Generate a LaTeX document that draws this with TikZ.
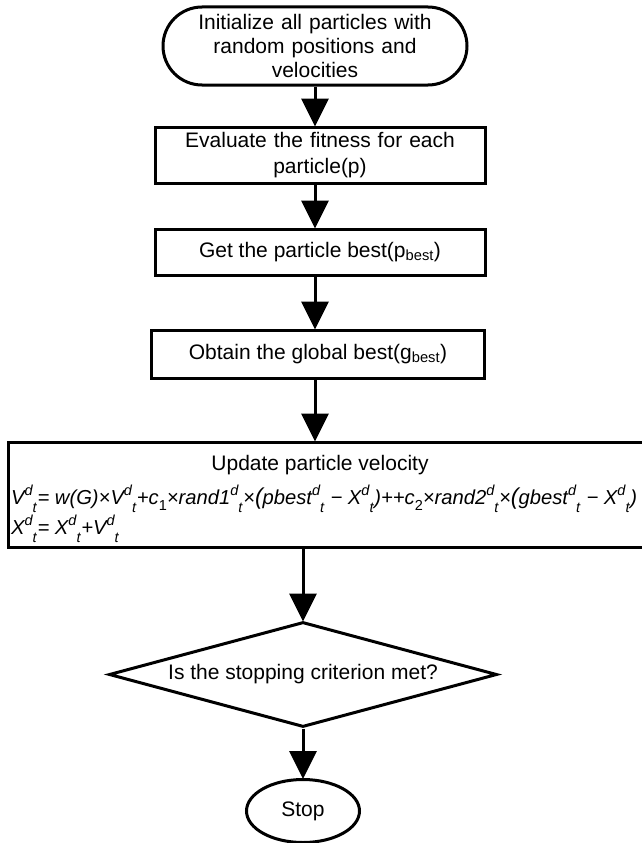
\documentclass[tikz,border=0pt]{standalone}
\usepackage{fontspec}
\setmainfont{Liberation Sans}
\usetikzlibrary{shapes.geometric,shapes.misc,arrows.meta}
\newcommand{\dsup}{\raisebox{0.85ex}{\fontsize{14.5}{15}\selectfont d}\raisebox{-0.75ex}{\fontsize{14.5}{15}\selectfont t}\kern0.8pt}
\newcommand{\lsub}[1]{\raisebox{-0.5ex}{\fontsize{14.5}{15}\selectfont\upshape #1}}
\newcommand{\bpar}[1]{{\fontsize{23}{23}\selectfont #1}}
\begin{document}
\begin{tikzpicture}[x=1pt,y=-1pt,
  every node/.style={font=\fontsize{21}{24}\selectfont},
  box/.style={draw,line width=3pt,rectangle,inner sep=0pt,align=center},
  term/.style={draw,line width=3pt,rounded rectangle,inner sep=0pt,align=center},
  dec/.style={draw,line width=3pt,diamond,inner sep=0pt,aspect=3.7},
  oval/.style={draw,line width=3pt,ellipse,inner sep=0pt},
  flow/.style={line width=3pt,-{Triangle[width=27pt,length=28pt]},shorten >=-1pt},
  formula/.style={anchor=west,inner sep=0pt,font=\fontsize{20.2}{24}\selectfont\itshape}]
\useasboundingbox (0,0) rectangle (641,843);
\node[term,minimum width=304pt,minimum height=78pt,text width=270pt] (start) at (315,46)
  {Initialize all particles with\\random positions and\\velocities};
\node[box,minimum width=330pt,minimum height=56pt,text width=320pt,font=\fontsize{21}{26}\selectfont] (eval) at (320,155)
  {Evaluate the fitness for each\\particle(p)};
\node[box,minimum width=330pt,minimum height=46pt] (pbest) at (320,252)
  {Get the particle best(p\textsubscript{best})};
\node[box,minimum width=333pt,minimum height=48pt] (gbest) at (318,354)
  {Obtain the global best(g\textsubscript{best})};
\node[box,minimum width=652pt,minimum height=105pt] (upd) at (334,494.5) {};
\node[inner sep=0pt] (updtitle) at (320,465) {Update particle velocity};
\node[formula] (eq1) at (11,499)
  {V\dsup= w(G)×V\dsup+c\lsub{1}×rand1\dsup×\bpar{(}pbest\dsup{} − X\dsup)++c\lsub{2}×rand2\dsup×\bpar{(}gbest\dsup{} − X\dsup)};
\node[formula] (eq2) at (11,529) {X\dsup= X\dsup+V\dsup};
\node[dec,minimum width=388pt,minimum height=105pt] (stopq) at (303,674.5)
  {Is the stopping criterion met?};
\node[oval,minimum width=113pt,minimum height=63pt] (stop) at (303,811) {Stop};
\draw[flow] (start.south) -- (start.south |- eval.north);
\draw[flow] (start.south |- eval.south) -- (start.south |- pbest.north);
\draw[flow] (start.south |- pbest.south) -- (start.south |- gbest.north);
\draw[flow] (start.south |- gbest.south) -- (start.south |- upd.north);
\draw[flow] (stopq.north |- upd.south) -- (stopq.north);
\draw[flow] (stopq.south) -- (stop.north);
\end{tikzpicture}
\end{document}
